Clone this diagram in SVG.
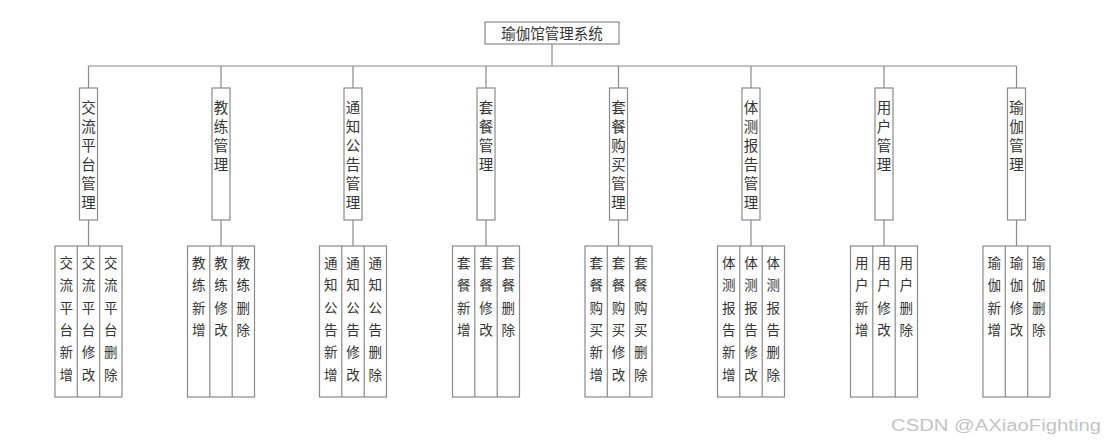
<svg xmlns="http://www.w3.org/2000/svg" width="1106" height="442" viewBox="0 0 1106 442">
<style>
.box{fill:#fff;stroke:#8a8a8a;stroke-width:1.2}
.ln{stroke:#8a8a8a;stroke-width:1.2;fill:none}
.t0{font-family:"Noto Sans CJK SC","Liberation Sans",sans-serif;font-size:14.5px;fill:#333;text-anchor:middle}
.t1{font-family:"Noto Sans CJK SC","Liberation Sans",sans-serif;font-size:14.5px;fill:#333;text-anchor:middle}
.t2{font-family:"Noto Sans CJK SC","Liberation Sans",sans-serif;font-size:13.5px;fill:#333;text-anchor:middle}
.wm{font-family:"Liberation Sans",Arial,sans-serif;font-size:16px;fill:#c4c4c4}
</style>
<rect width="1106" height="442" fill="#fff"/>
<g opacity="0.99">
<g id="connectors">
<path class="ln" d="M552,44V66M88.5,66H1016.5"/>
<path class="ln" d="M88.5,66V88M88.5,220V246"/>
<path class="ln" d="M221,66V88M221,220V246"/>
<path class="ln" d="M353,66V88M353,220V246"/>
<path class="ln" d="M486,66V88M486,220V246"/>
<path class="ln" d="M618.5,66V88M618.5,220V246"/>
<path class="ln" d="M751,66V88M751,220V246"/>
<path class="ln" d="M884,66V88M884,220V246"/>
<path class="ln" d="M1016.5,66V88M1016.5,220V246"/>
</g>
<g id="root">
<rect class="box" x="485" y="22" width="134" height="22"/>
<text class="t0" x="552" y="39">瑜伽馆管理系统</text>
</g>
<g id="n1">
<rect class="box" x="79.5" y="88" width="18" height="132"/>
<text class="t1"><tspan x="88.5" y="113">交</tspan><tspan x="88.5" dy="19">流</tspan><tspan x="88.5" dy="19">平</tspan><tspan x="88.5" dy="19">台</tspan><tspan x="88.5" dy="19">管</tspan><tspan x="88.5" dy="19">理</tspan></text>
</g>
<g id="n1s">
<rect class="box" x="55" y="246" width="67" height="151"/>
<path class="ln" d="M77.3,246V397M99.7,246V397"/>
<text class="t2"><tspan x="66.2" y="268">交</tspan><tspan x="66.2" dy="22.3">流</tspan><tspan x="66.2" dy="22.3">平</tspan><tspan x="66.2" dy="22.3">台</tspan><tspan x="66.2" dy="22.3">新</tspan><tspan x="66.2" dy="22.3">增</tspan></text>
<text class="t2"><tspan x="88.5" y="268">交</tspan><tspan x="88.5" dy="22.3">流</tspan><tspan x="88.5" dy="22.3">平</tspan><tspan x="88.5" dy="22.3">台</tspan><tspan x="88.5" dy="22.3">修</tspan><tspan x="88.5" dy="22.3">改</tspan></text>
<text class="t2"><tspan x="110.8" y="268">交</tspan><tspan x="110.8" dy="22.3">流</tspan><tspan x="110.8" dy="22.3">平</tspan><tspan x="110.8" dy="22.3">台</tspan><tspan x="110.8" dy="22.3">删</tspan><tspan x="110.8" dy="22.3">除</tspan></text>
</g>
<g id="n2">
<rect class="box" x="212" y="88" width="18" height="132"/>
<text class="t1"><tspan x="221" y="113">教</tspan><tspan x="221" dy="19">练</tspan><tspan x="221" dy="19">管</tspan><tspan x="221" dy="19">理</tspan></text>
</g>
<g id="n2s">
<rect class="box" x="187.5" y="246" width="67" height="151"/>
<path class="ln" d="M209.8,246V397M232.2,246V397"/>
<text class="t2"><tspan x="198.7" y="268">教</tspan><tspan x="198.7" dy="22.3">练</tspan><tspan x="198.7" dy="22.3">新</tspan><tspan x="198.7" dy="22.3">增</tspan></text>
<text class="t2"><tspan x="221" y="268">教</tspan><tspan x="221" dy="22.3">练</tspan><tspan x="221" dy="22.3">修</tspan><tspan x="221" dy="22.3">改</tspan></text>
<text class="t2"><tspan x="243.3" y="268">教</tspan><tspan x="243.3" dy="22.3">练</tspan><tspan x="243.3" dy="22.3">删</tspan><tspan x="243.3" dy="22.3">除</tspan></text>
</g>
<g id="n3">
<rect class="box" x="344" y="88" width="18" height="132"/>
<text class="t1"><tspan x="353" y="113">通</tspan><tspan x="353" dy="19">知</tspan><tspan x="353" dy="19">公</tspan><tspan x="353" dy="19">告</tspan><tspan x="353" dy="19">管</tspan><tspan x="353" dy="19">理</tspan></text>
</g>
<g id="n3s">
<rect class="box" x="319.5" y="246" width="67" height="151"/>
<path class="ln" d="M341.8,246V397M364.2,246V397"/>
<text class="t2"><tspan x="330.7" y="268">通</tspan><tspan x="330.7" dy="22.3">知</tspan><tspan x="330.7" dy="22.3">公</tspan><tspan x="330.7" dy="22.3">告</tspan><tspan x="330.7" dy="22.3">新</tspan><tspan x="330.7" dy="22.3">增</tspan></text>
<text class="t2"><tspan x="353" y="268">通</tspan><tspan x="353" dy="22.3">知</tspan><tspan x="353" dy="22.3">公</tspan><tspan x="353" dy="22.3">告</tspan><tspan x="353" dy="22.3">修</tspan><tspan x="353" dy="22.3">改</tspan></text>
<text class="t2"><tspan x="375.3" y="268">通</tspan><tspan x="375.3" dy="22.3">知</tspan><tspan x="375.3" dy="22.3">公</tspan><tspan x="375.3" dy="22.3">告</tspan><tspan x="375.3" dy="22.3">删</tspan><tspan x="375.3" dy="22.3">除</tspan></text>
</g>
<g id="n4">
<rect class="box" x="477" y="88" width="18" height="132"/>
<text class="t1"><tspan x="486" y="113">套</tspan><tspan x="486" dy="19">餐</tspan><tspan x="486" dy="19">管</tspan><tspan x="486" dy="19">理</tspan></text>
</g>
<g id="n4s">
<rect class="box" x="452.5" y="246" width="67" height="151"/>
<path class="ln" d="M474.8,246V397M497.2,246V397"/>
<text class="t2"><tspan x="463.7" y="268">套</tspan><tspan x="463.7" dy="22.3">餐</tspan><tspan x="463.7" dy="22.3">新</tspan><tspan x="463.7" dy="22.3">增</tspan></text>
<text class="t2"><tspan x="486" y="268">套</tspan><tspan x="486" dy="22.3">餐</tspan><tspan x="486" dy="22.3">修</tspan><tspan x="486" dy="22.3">改</tspan></text>
<text class="t2"><tspan x="508.3" y="268">套</tspan><tspan x="508.3" dy="22.3">餐</tspan><tspan x="508.3" dy="22.3">删</tspan><tspan x="508.3" dy="22.3">除</tspan></text>
</g>
<g id="n5">
<rect class="box" x="609.5" y="88" width="18" height="132"/>
<text class="t1"><tspan x="618.5" y="113">套</tspan><tspan x="618.5" dy="19">餐</tspan><tspan x="618.5" dy="19">购</tspan><tspan x="618.5" dy="19">买</tspan><tspan x="618.5" dy="19">管</tspan><tspan x="618.5" dy="19">理</tspan></text>
</g>
<g id="n5s">
<rect class="box" x="585" y="246" width="67" height="151"/>
<path class="ln" d="M607.3,246V397M629.7,246V397"/>
<text class="t2"><tspan x="596.2" y="268">套</tspan><tspan x="596.2" dy="22.3">餐</tspan><tspan x="596.2" dy="22.3">购</tspan><tspan x="596.2" dy="22.3">买</tspan><tspan x="596.2" dy="22.3">新</tspan><tspan x="596.2" dy="22.3">增</tspan></text>
<text class="t2"><tspan x="618.5" y="268">套</tspan><tspan x="618.5" dy="22.3">餐</tspan><tspan x="618.5" dy="22.3">购</tspan><tspan x="618.5" dy="22.3">买</tspan><tspan x="618.5" dy="22.3">修</tspan><tspan x="618.5" dy="22.3">改</tspan></text>
<text class="t2"><tspan x="640.8" y="268">套</tspan><tspan x="640.8" dy="22.3">餐</tspan><tspan x="640.8" dy="22.3">购</tspan><tspan x="640.8" dy="22.3">买</tspan><tspan x="640.8" dy="22.3">删</tspan><tspan x="640.8" dy="22.3">除</tspan></text>
</g>
<g id="n6">
<rect class="box" x="742" y="88" width="18" height="132"/>
<text class="t1"><tspan x="751" y="113">体</tspan><tspan x="751" dy="19">测</tspan><tspan x="751" dy="19">报</tspan><tspan x="751" dy="19">告</tspan><tspan x="751" dy="19">管</tspan><tspan x="751" dy="19">理</tspan></text>
</g>
<g id="n6s">
<rect class="box" x="717.5" y="246" width="67" height="151"/>
<path class="ln" d="M739.8,246V397M762.2,246V397"/>
<text class="t2"><tspan x="728.7" y="268">体</tspan><tspan x="728.7" dy="22.3">测</tspan><tspan x="728.7" dy="22.3">报</tspan><tspan x="728.7" dy="22.3">告</tspan><tspan x="728.7" dy="22.3">新</tspan><tspan x="728.7" dy="22.3">增</tspan></text>
<text class="t2"><tspan x="751" y="268">体</tspan><tspan x="751" dy="22.3">测</tspan><tspan x="751" dy="22.3">报</tspan><tspan x="751" dy="22.3">告</tspan><tspan x="751" dy="22.3">修</tspan><tspan x="751" dy="22.3">改</tspan></text>
<text class="t2"><tspan x="773.3" y="268">体</tspan><tspan x="773.3" dy="22.3">测</tspan><tspan x="773.3" dy="22.3">报</tspan><tspan x="773.3" dy="22.3">告</tspan><tspan x="773.3" dy="22.3">删</tspan><tspan x="773.3" dy="22.3">除</tspan></text>
</g>
<g id="n7">
<rect class="box" x="875" y="88" width="18" height="132"/>
<text class="t1"><tspan x="884" y="113">用</tspan><tspan x="884" dy="19">户</tspan><tspan x="884" dy="19">管</tspan><tspan x="884" dy="19">理</tspan></text>
</g>
<g id="n7s">
<rect class="box" x="850.5" y="246" width="67" height="151"/>
<path class="ln" d="M872.8,246V397M895.2,246V397"/>
<text class="t2"><tspan x="861.7" y="268">用</tspan><tspan x="861.7" dy="22.3">户</tspan><tspan x="861.7" dy="22.3">新</tspan><tspan x="861.7" dy="22.3">增</tspan></text>
<text class="t2"><tspan x="884" y="268">用</tspan><tspan x="884" dy="22.3">户</tspan><tspan x="884" dy="22.3">修</tspan><tspan x="884" dy="22.3">改</tspan></text>
<text class="t2"><tspan x="906.3" y="268">用</tspan><tspan x="906.3" dy="22.3">户</tspan><tspan x="906.3" dy="22.3">删</tspan><tspan x="906.3" dy="22.3">除</tspan></text>
</g>
<g id="n8">
<rect class="box" x="1007.5" y="88" width="18" height="132"/>
<text class="t1"><tspan x="1016.5" y="113">瑜</tspan><tspan x="1016.5" dy="19">伽</tspan><tspan x="1016.5" dy="19">管</tspan><tspan x="1016.5" dy="19">理</tspan></text>
</g>
<g id="n8s">
<rect class="box" x="983" y="246" width="67" height="151"/>
<path class="ln" d="M1005.3,246V397M1027.7,246V397"/>
<text class="t2"><tspan x="994.2" y="268">瑜</tspan><tspan x="994.2" dy="22.3">伽</tspan><tspan x="994.2" dy="22.3">新</tspan><tspan x="994.2" dy="22.3">增</tspan></text>
<text class="t2"><tspan x="1016.5" y="268">瑜</tspan><tspan x="1016.5" dy="22.3">伽</tspan><tspan x="1016.5" dy="22.3">修</tspan><tspan x="1016.5" dy="22.3">改</tspan></text>
<text class="t2"><tspan x="1038.8" y="268">瑜</tspan><tspan x="1038.8" dy="22.3">伽</tspan><tspan x="1038.8" dy="22.3">删</tspan><tspan x="1038.8" dy="22.3">除</tspan></text>
</g>
<text class="wm" x="891" y="431" textLength="210" lengthAdjust="spacingAndGlyphs">CSDN @AXiaoFighting</text>
</g>
</svg>
